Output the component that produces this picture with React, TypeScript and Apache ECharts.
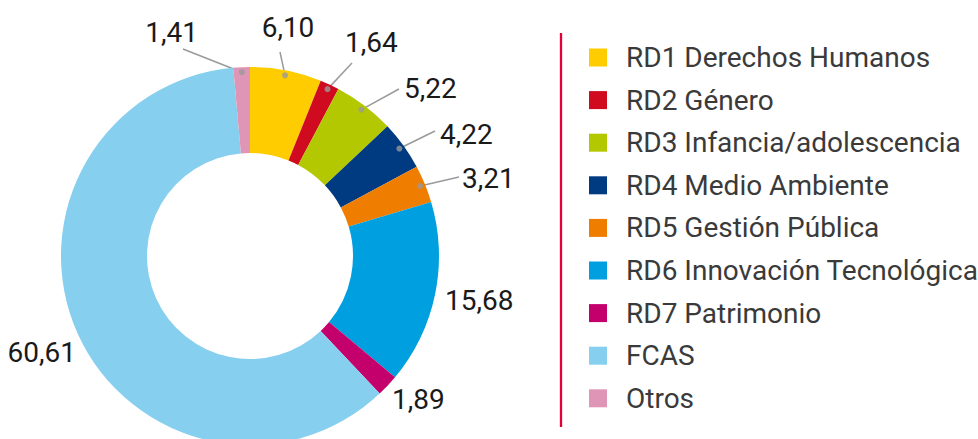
import React, { useEffect, useRef } from 'react';
import * as echarts from 'echarts';

const categories = [
  'RD1 Derechos Humanos',
  'RD2 Género',
  'RD3 Infancia/adolescencia',
  'RD4 Medio Ambiente',
  'RD5 Gestión Pública',
  'RD6 Innovación Tecnológica',
  'RD7 Patrimonio',
  'FCAS',
  'Otros',
];
const values = [6.1, 1.64, 5.22, 4.22, 3.21, 15.68, 1.89, 60.61, 1.41];
const colors = ['#FFCC00', '#D00A1F', '#B3C800', '#003B82', '#EE7D00', '#009FE0', '#C4006C', '#87CFEF', '#DF95B5'];
const hasLeader = [true, true, true, true, true, false, false, false, true];

// label layout (separate from data)
const labelAnchors: [number, number, string][] = [
  [288, 27, 'center'],
  [345, 42, 'left'],
  [404, 88, 'left'],
  [440, 134, 'left'],
  [462, 178, 'left'],
  [445, 300, 'left'],
  [392, 399, 'left'],
  [76, 352, 'right'],
  [198, 32, 'right'],
];
const leaderEnds: ([number, number] | null)[] = [
  [280, 52],
  [352, 63],
  [399, 89],
  [435, 131],
  [459, 177],
  null,
  null,
  null,
  [183, 49],
];

const CX = 250;
const CY = 256;
const R_OUT = 189;
const R_IN = 103;
const DOT_R = 184;

const fmt = (v: number) => v.toFixed(2).replace('.', ',');

export default function App() {
  const ref = useRef<HTMLDivElement>(null);
  useEffect(() => {
    if (!ref.current) return;
    const chart = echarts.init(ref.current, undefined, { renderer: 'svg' });
    const total = values.reduce((a, b) => a + b, 0);
    const dotData: number[][] = [];
    let cum = 0;
    values.forEach((v, i) => {
      const mid = cum + v / 2;
      cum += v;
      if (hasLeader[i]) dotData.push([DOT_R, mid]);
    });
    chart.setOption({
      animation: false,
      color: colors,
      legend: {
        orient: 'vertical',
        left: 589,
        top: 43.5,
        padding: 0,
        itemWidth: 18,
        itemHeight: 18,
        itemGap: 14.6,
        icon: 'rect',
        selectedMode: false,
        data: categories,
        textStyle: {
          fontSize: 28,
          fontFamily: 'Roboto',
          color: '#3a3a3a',
          lineHeight: 28,
          padding: [0, 0, 0, 14],
        },
      },
      polar: { center: [CX, CY], radius: R_OUT },
      angleAxis: { type: 'value', min: 0, max: total, startAngle: 90, clockwise: true, show: false },
      radiusAxis: { type: 'value', min: 0, max: R_OUT, show: false },
      graphic: [
        {
          type: 'line',
          shape: { x1: 561, y1: 33, x2: 561, y2: 427 },
          style: { stroke: '#E4003A', lineWidth: 2.3 },
        },
      ],
      series: [
        {
          type: 'pie',
          center: [CX, CY],
          radius: [R_IN, R_OUT],
          startAngle: 90,
          clockwise: true,
          avoidLabelOverlap: false,
          itemStyle: { borderWidth: 0 },
          emphasis: { disabled: true },
          label: {
            show: true,
            position: 'outside',
            formatter: (p: any) => fmt(p.value),
            fontSize: 28,
            fontFamily: 'Roboto',
            color: '#1a1a1a',
          },
          labelLine: {
            show: true,
            length: 15,
            length2: 0,
            lineStyle: { color: '#9a9a9a', width: 1.5 },
          },
          labelLayout: (params: any) => {
            const i = params.dataIndex;
            const a = labelAnchors[i];
            const res: any = { x: a[0], y: a[1], align: a[2], verticalAlign: 'middle' };
            const end = leaderEnds[i];
            if (end && params.labelLinePoints) {
              const p0 = params.labelLinePoints[0];
              const dx = p0[0] - CX;
              const dy = p0[1] - CY;
              const len = Math.sqrt(dx * dx + dy * dy) || 1;
              const sx = CX + (dx / len) * DOT_R;
              const sy = CY + (dy / len) * DOT_R;
              res.labelLinePoints = [
                [sx, sy],
                [end[0], end[1]],
                [end[0], end[1]],
              ];
            }
            return res;
          },
          data: categories.map((name, i) => ({
            name,
            value: values[i],
            labelLine: { show: hasLeader[i] },
          })),
        },
        {
          type: 'scatter',
          name: 'dots',
          coordinateSystem: 'polar',
          symbol: 'circle',
          symbolSize: 6,
          z: 5,
          silent: true,
          itemStyle: { color: '#9a9a9a' },
          data: dotData,
        },
      ],
    });
    return () => chart.dispose();
  }, []);
  return (
    <div
      ref={ref}
      style={{ position: 'fixed', left: 0, top: 0, width: 978, height: 439, background: '#fff' }}
    />
  );
}
